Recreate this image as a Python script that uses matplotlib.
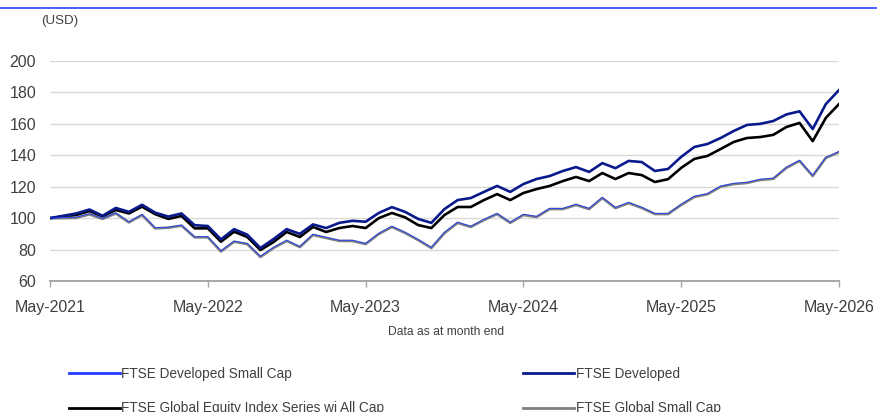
import matplotlib
matplotlib.use("Agg")
import matplotlib.pyplot as plt
from matplotlib.lines import Line2D

plt.rcParams['font.family'] = ['Liberation Sans', 'DejaVu Sans']

# monthly index levels, May-2021 = 100
dev_small = [100, 100.3, 100.6, 102.8, 99.8, 103.4, 97.6, 102.4, 93.9, 94.2,
             95.6, 88.1, 88.2, 79.2, 85.4, 83.8, 75.7, 81.4, 85.9, 82.0,
             89.7, 87.8, 85.9, 85.9, 83.9, 90.3, 94.8, 91.0, 86.4, 81.4,
             91.0, 97.4, 94.8, 99.2, 103.0, 97.4, 102.4, 101.1, 106.2, 106.2,
             108.8, 106.2, 113.2, 106.8, 110.0, 106.9, 103.0, 103.0, 108.8, 113.9,
             115.6, 120.4, 122.1, 122.8, 124.7, 125.4, 132.4, 136.8, 127.2, 138.7,
             142.4]
developed = [100, 101.5, 103, 105.5, 101.5, 106.5, 104, 108.5, 103.5, 101,
             103, 95.5, 95, 86.5, 93, 89.5, 81, 86.7, 93, 90,
             96, 93.7, 97, 98.3, 97.7, 103.3, 107, 104, 99.5, 97,
             105.8, 111.5, 112.8, 116.7, 120.5, 116.7, 121.7, 124.9, 126.8, 130,
             132.5, 129.4, 135, 131.8, 136.4, 135.7, 130, 131.3, 139, 145.3,
             147.2, 151, 155.5, 159.3, 160, 161.8, 166, 168, 156.7, 172.6,
             181.5]
global_all = [100, 101, 102, 104.5, 101, 105.2, 103, 107.3, 102.5, 99.5,
              101.4, 93.5, 93.5, 85, 91.4, 88, 79.7, 84.8, 91.2, 88,
              94.4, 91.2, 93.7, 95, 93.7, 100, 103.3, 100.5, 95.6, 93.7,
              102, 107.1, 107.1, 111.5, 115.3, 111.5, 116, 118.5, 120.5, 123.6,
              126.2, 123.6, 128.7, 124.9, 128.7, 127.4, 123, 124.8, 132, 137.7,
              139.6, 144, 148.5, 151, 151.6, 153, 158, 160.6, 149, 163.8,
              172.6]
global_small = [100, 100, 100.2, 102.4, 99.5, 103, 97.3, 102, 93.5, 93.9,
                95.2, 87.8, 87.8, 78.8, 85, 83.5, 75.3, 81, 85.5, 81.6,
                89.3, 87.4, 85.5, 85.5, 83.5, 89.9, 94.4, 90.6, 86, 81,
                90.5, 97, 94.4, 98.8, 102.6, 97, 102, 100.7, 105.8, 105.8,
                108.4, 105.8, 112.8, 106.4, 109.6, 106.5, 102.6, 102.6, 108.4, 113.5,
                115.2, 120, 121.7, 122.4, 124.3, 125, 132, 136.4, 126.8, 138.3,
                142]

tick_pos = [0, 12, 24, 36, 48, 60]
tick_labels = ['May-2021', 'May-2022', 'May-2023', 'May-2024', 'May-2025', 'May-2026']

months = list(range(len(developed)))

fig = plt.figure(figsize=(8.77, 4.12), dpi=100)
ax = fig.add_axes([50 / 877, 1 - 281 / 412, 789 / 877, 220 / 412])

ax.plot(months, global_all, color='#000000', lw=1.9, zorder=3)
ax.plot(months, developed, color='#0a1a8c', lw=1.9, zorder=4)
ax.plot(months, global_small, color='#808080', lw=1.9, zorder=3)
ax.plot(months, dev_small, color='#1f3cff', lw=0.6, zorder=4)

ax.set_xlim(0, 60)
ax.set_ylim(60, 200)
ax.set_yticks(range(60, 201, 20))
ax.set_xticks(tick_pos)
ax.set_xticklabels(tick_labels)
ax.grid(axis='y', color='#d9d9d9', lw=1)
ax.set_axisbelow(True)
for s in ['top', 'right', 'left']:
    ax.spines[s].set_visible(False)
ax.spines['bottom'].set_color('#a6a6a6')
ax.spines['bottom'].set_linewidth(1.4)
ax.tick_params(axis='y', length=0, pad=10, labelsize=11.5, labelcolor='#404040')
ax.tick_params(axis='x', length=4, width=1, color='#a6a6a6', direction='out',
               pad=10, labelsize=11.5, labelcolor='#404040')

fig.text(60 / 877, 1 - 21 / 412, '(USD)', fontsize=9.6, color='#404040',
         ha='center', va='center')
fig.text(446 / 877, 1 - 332 / 412, 'Data as at month end', fontsize=8.7,
         color='#404040', ha='center', va='center')

# blue rule across the top
fig.add_artist(Line2D([0, 1], [1 - 8 / 412, 1 - 8 / 412], transform=fig.transFigure,
                      color='#1a33ff', lw=1.1))

handles = [
    Line2D([], [], color='#1f3cff', lw=2),
    Line2D([], [], color='#000000', lw=2),
    Line2D([], [], color='#0a1a8c', lw=2),
    Line2D([], [], color='#808080', lw=2),
]
names = ['FTSE Developed Small Cap', 'FTSE Global Equity Index Series wi All Cap',
         'FTSE Developed', 'FTSE Global Small Cap']
fig.legend(handles, names, ncol=2, loc='upper left',
           bbox_to_anchor=(69 / 877, 1 - 367 / 412), frameon=False,
           fontsize=9.8, labelcolor='#404040', handlelength=3.75, handletextpad=0.1,
           columnspacing=10.2, labelspacing=1.5, borderaxespad=0, borderpad=0)

fig.savefig('out.png', dpi=100)
